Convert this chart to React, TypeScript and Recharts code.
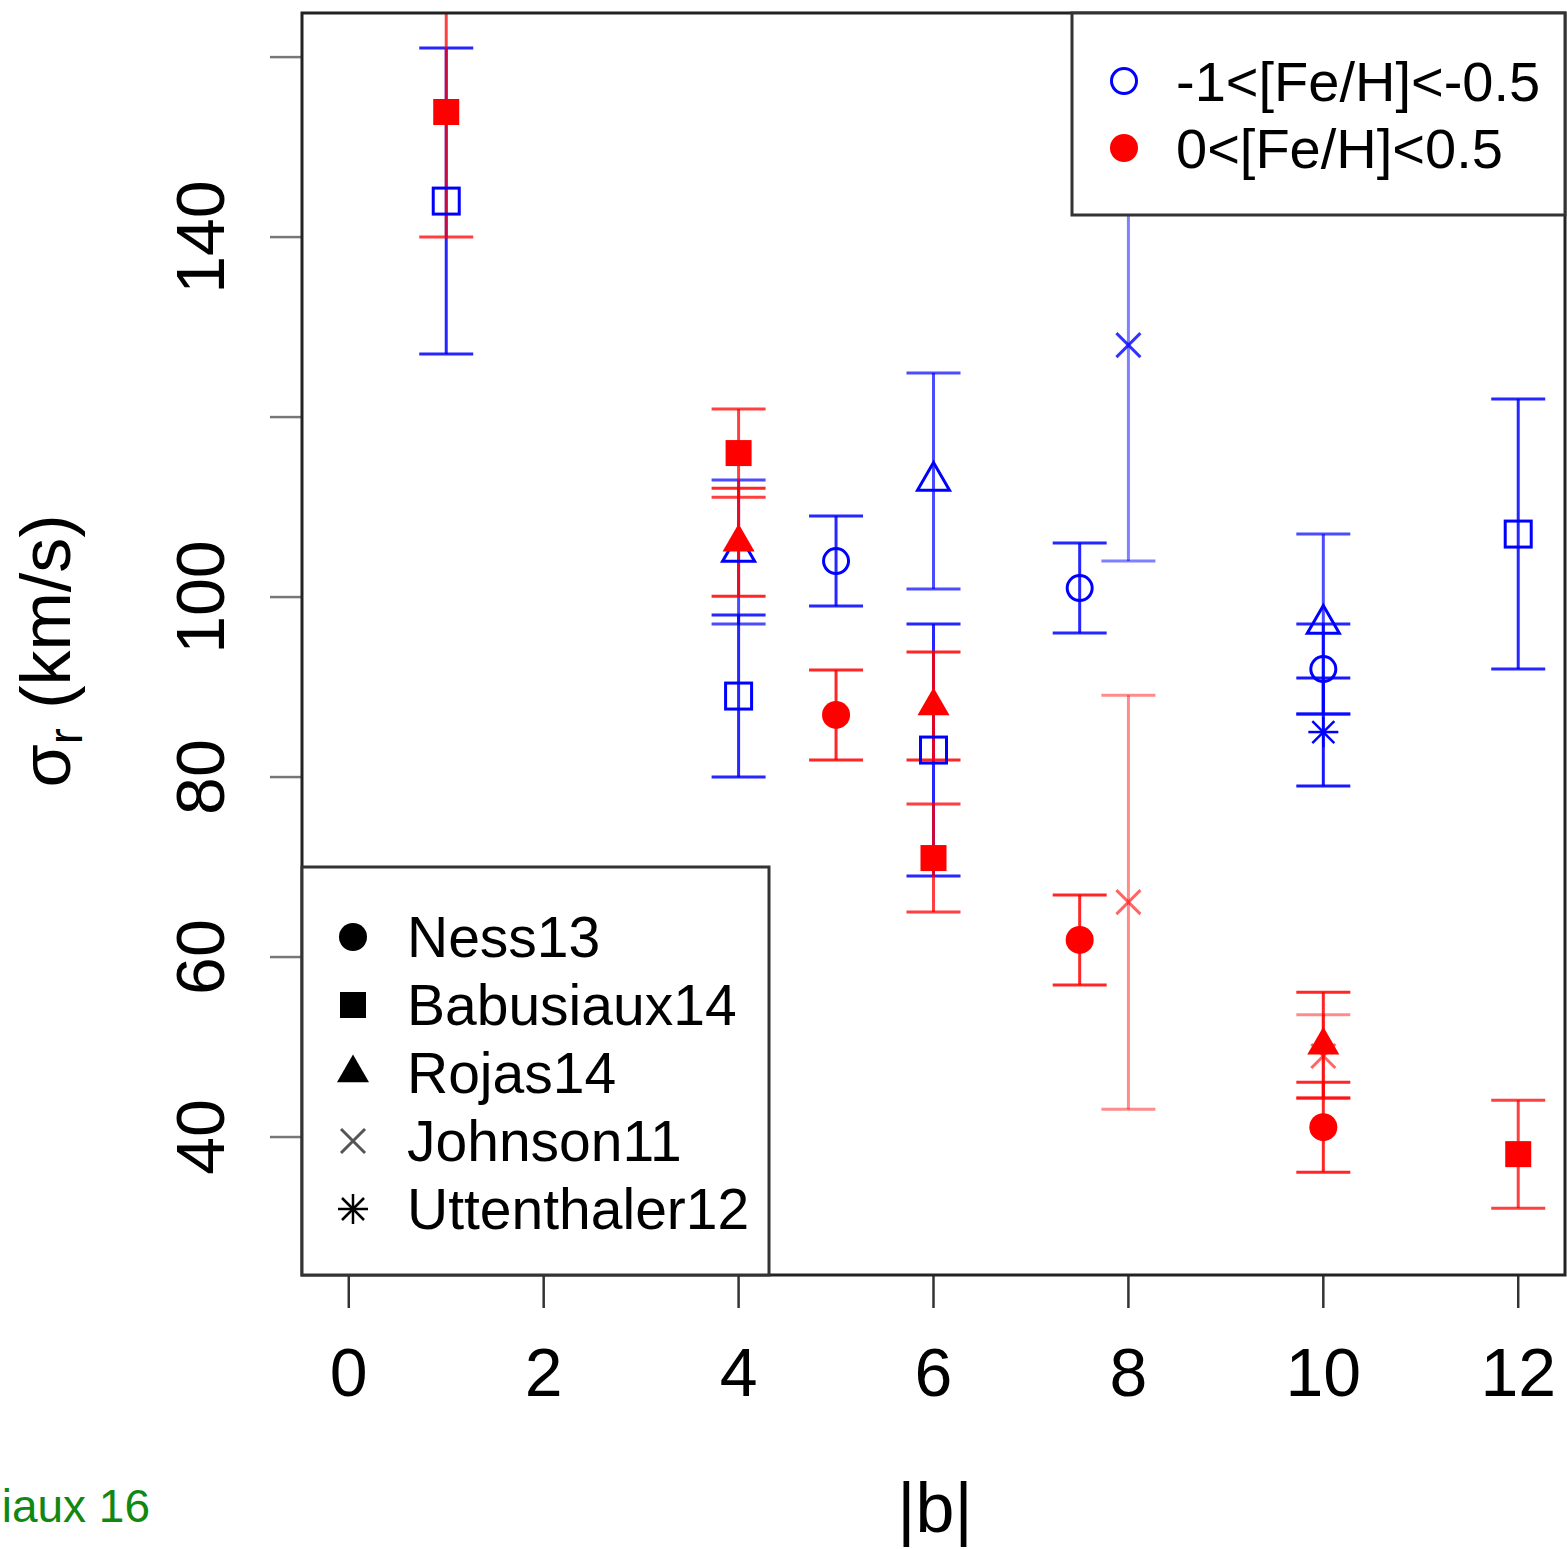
import { ErrorBar, Scatter, ScatterChart, XAxis, YAxis } from 'recharts'

interface Obs {
  b: number
  sigma: number
  err: number
}

// metal-poor stars, -1 < [Fe/H] < -0.5 (blue, open symbols)
const poorNess13: Obs[] = [
  { b: 5, sigma: 104, err: 5 },
  { b: 7.5, sigma: 101, err: 5 },
  { b: 10, sigma: 92, err: 5 },
]
const poorBabusiaux14: Obs[] = [
  { b: 1, sigma: 144, err: 17 },
  { b: 4, sigma: 89, err: 9 },
  { b: 6, sigma: 83, err: 14 },
  { b: 12, sigma: 107, err: 15 },
]
const poorRojas14: Obs[] = [
  { b: 4, sigma: 105, err: 8 },
  { b: 6, sigma: 112.9, err: 12 },
  { b: 10, sigma: 97, err: 10 },
]
const poorJohnson11: Obs[] = [{ b: 8, sigma: 128, err: 24 }]
const poorUttenthaler12: Obs[] = [{ b: 10, sigma: 85, err: 6 }]

// metal-rich stars, 0 < [Fe/H] < 0.5 (red, filled symbols)
const richNess13: Obs[] = [
  { b: 5, sigma: 86.9, err: 5 },
  { b: 7.5, sigma: 61.9, err: 5 },
  { b: 10, sigma: 41.1, err: 5 },
]
const richBabusiaux14: Obs[] = [
  { b: 1, sigma: 153.9, err: 13.9 },
  { b: 4, sigma: 116, err: 4.9 },
  { b: 6, sigma: 71, err: 6 },
  { b: 12, sigma: 38.1, err: 6 },
]
const richRojas14: Obs[] = [
  { b: 4, sigma: 106.1, err: 6 },
  { b: 6, sigma: 87.9, err: 6 },
  { b: 10, sigma: 50.2, err: 5.9 },
]
const richJohnson11: Obs[] = [
  { b: 8, sigma: 66.1, err: 23 },
  { b: 10, sigma: 49, err: 4.6 },
]

const xTicks = [0, 2, 4, 6, 8, 10, 12]
const yTicks = [40, 60, 80, 100, 120, 140, 160]
const yTickLabels = [40, 60, 80, 100, 140] // R skipped 120 and 160
const studies = ['Ness13', 'Babusiaux14', 'Rojas14', 'Johnson11', 'Uttenthaler12']
const groups = ['-1<[Fe/H]<-0.5', '0<[Fe/H]<0.5']

const BLUE = '#0000ff'
const RED = '#ff0000'
const FONT = '"Liberation Sans", Arial, Helvetica, sans-serif'

type Kind = 'circle' | 'square' | 'triangle' | 'cross' | 'star'

const studyKinds: Kind[] = ['circle', 'square', 'triangle', 'cross', 'star']

interface MarkerProps {
  kind: Kind
  cx: number
  cy: number
  color: string
  filled: boolean
  opacity?: number
}

function Marker({ kind, cx, cy, color, filled, opacity = 1 }: MarkerProps) {
  const sw = 3
  if (kind === 'circle') {
    return filled ? (
      <circle cx={cx} cy={cy} r={14} fill={color} opacity={opacity} />
    ) : (
      <circle cx={cx} cy={cy} r={12.5} fill="none" stroke={color} strokeWidth={sw} opacity={opacity} />
    )
  }
  if (kind === 'square') {
    const s = 13
    return (
      <rect
        x={cx - s}
        y={cy - s}
        width={2 * s}
        height={2 * s}
        fill={filled ? color : 'none'}
        stroke={filled ? 'none' : color}
        strokeWidth={sw}
        opacity={opacity}
      />
    )
  }
  if (kind === 'triangle') {
    const r = 18.5
    const pts = `${cx},${cy - r} ${cx + r * 0.866},${cy + r / 2} ${cx - r * 0.866},${cy + r / 2}`
    return (
      <polygon
        points={pts}
        fill={filled ? color : 'none'}
        stroke={filled ? 'none' : color}
        strokeWidth={sw}
        opacity={opacity}
      />
    )
  }
  if (kind === 'cross') {
    const d = 12
    return (
      <g stroke={color} strokeWidth={sw} opacity={opacity}>
        <line x1={cx - d} y1={cy - d} x2={cx + d} y2={cy + d} />
        <line x1={cx - d} y1={cy + d} x2={cx + d} y2={cy - d} />
      </g>
    )
  }
  const d = 15
  const e = 11
  return (
    <g stroke={color} strokeWidth={sw - 0.5} opacity={opacity}>
      <line x1={cx - d} y1={cy} x2={cx + d} y2={cy} />
      <line x1={cx} y1={cy - d} x2={cx} y2={cy + d} />
      <line x1={cx - e} y1={cy - e} x2={cx + e} y2={cy + e} />
      <line x1={cx - e} y1={cy + e} x2={cx + e} y2={cy - e} />
    </g>
  )
}

interface SeriesDef {
  name: string
  data: Obs[]
  kind: Kind
  color: string
  filled: boolean
  barOpacity: number
  markOpacity: number
}

const series: SeriesDef[] = [
  { name: 'poor-ness', data: poorNess13, kind: 'circle', color: BLUE, filled: false, barOpacity: 0.85, markOpacity: 1 },
  { name: 'poor-babusiaux', data: poorBabusiaux14, kind: 'square', color: BLUE, filled: false, barOpacity: 0.85, markOpacity: 1 },
  { name: 'poor-rojas', data: poorRojas14, kind: 'triangle', color: BLUE, filled: false, barOpacity: 0.7, markOpacity: 1 },
  { name: 'poor-johnson', data: poorJohnson11, kind: 'cross', color: BLUE, filled: false, barOpacity: 0.5, markOpacity: 0.8 },
  { name: 'poor-uttenthaler', data: poorUttenthaler12, kind: 'star', color: BLUE, filled: false, barOpacity: 0.9, markOpacity: 1 },
  { name: 'rich-ness', data: richNess13, kind: 'circle', color: RED, filled: true, barOpacity: 0.85, markOpacity: 1 },
  { name: 'rich-babusiaux', data: richBabusiaux14, kind: 'square', color: RED, filled: true, barOpacity: 0.75, markOpacity: 1 },
  { name: 'rich-rojas', data: richRojas14, kind: 'triangle', color: RED, filled: true, barOpacity: 0.85, markOpacity: 1 },
  { name: 'rich-johnson', data: richJohnson11, kind: 'cross', color: RED, filled: true, barOpacity: 0.45, markOpacity: 0.6 },
]

function XTick(props: any) {
  const { x, y, payload } = props
  return (
    <text x={x} y={y + 86} textAnchor="middle" fontSize={68} fontFamily={FONT} fill="#000">
      {payload.value}
    </text>
  )
}

function YTick(props: any) {
  const { x, y, payload } = props
  if (!yTickLabels.includes(payload.value)) return <g />
  const bx = x - 44
  return (
    <text
      x={bx}
      y={y}
      transform={`rotate(-90 ${bx} ${y})`}
      textAnchor="middle"
      fontSize={68}
      fontFamily={FONT}
      fill="#000"
    >
      {payload.value}
    </text>
  )
}

export default function App() {
  return (
    <div style={{ position: 'absolute', left: 0, top: 0, width: 1567, height: 1549, background: '#fff' }}>
      <ScatterChart width={1567} height={1549} margin={{ top: 13, right: 2, bottom: 154, left: 152 }}>
        <XAxis
          type="number"
          dataKey="b"
          domain={[-0.48, 12.48]}
          ticks={xTicks}
          interval={0}
          allowDataOverflow
          axisLine={false}
          tickSize={33}
          tickLine={{ stroke: '#333', strokeWidth: 2.5 }}
          tick={XTick}
          height={120}
        />
        <YAxis
          type="number"
          dataKey="sigma"
          domain={[24.67, 164.9]}
          ticks={yTicks}
          interval={0}
          allowDataOverflow
          axisLine={false}
          tickSize={32}
          tickLine={{ stroke: '#777', strokeWidth: 2.5 }}
          tick={YTick}
          width={150}
        />
        {series.map((s) => (
          <Scatter
            key={s.name}
            name={s.name}
            data={s.data}
            isAnimationActive={false}
            shape={(p: any) => (
              <Marker kind={s.kind} cx={p.cx} cy={p.cy} color={s.color} filled={s.filled} opacity={s.markOpacity} />
            )}
          >
            <ErrorBar
              dataKey="err"
              direction="y"
              width={27}
              stroke={s.color}
              strokeWidth={3}
              strokeOpacity={s.barOpacity}
              isAnimationActive={false}
            />
          </Scatter>
        ))}
      </ScatterChart>

      <svg
        width={1567}
        height={1549}
        style={{ position: 'absolute', left: 0, top: 0, pointerEvents: 'none' }}
        fontFamily={FONT}
      >
        {/* hide what runs past the top of the plot */}
        <rect x={300} y={0} width={1267} height={12} fill="#fff" />
        {/* plot frame */}
        <rect x={302} y={13} width={1263} height={1262} fill="none" stroke="#222" strokeWidth={3} />

        {/* metallicity legend */}
        <rect x={1072} y={13} width={493} height={202} fill="#fff" stroke="#333" strokeWidth={3} />
        <Marker kind="circle" cx={1124} cy={81} color={BLUE} filled={false} />
        <Marker kind="circle" cx={1124} cy={148} color={RED} filled />
        {groups.map((g, i) => (
          <text key={g} x={1176} y={101 + i * 67} fontSize={56} fill="#000">
            {g}
          </text>
        ))}

        {/* study legend */}
        <rect x={302} y={867} width={467} height={408} fill="#fff" stroke="#333" strokeWidth={3} />
        {studies.map((name, i) => (
          <g key={name}>
            <Marker
              kind={studyKinds[i]}
              cx={353}
              cy={937 + i * 68}
              color={i === 3 ? '#555' : '#000'}
              filled={i < 3}
            />
            <text x={407} y={957 + i * 68} fontSize={57} fill="#000">
              {name}
            </text>
          </g>
        ))}

        {/* axis titles */}
        <text x={935} y={1532} textAnchor="middle" fontSize={70} fill="#000">
          |b|
        </text>
        <text x={70} y={651} transform="rotate(-90 70 651)" textAnchor="middle" fontSize={70} fill="#000">
          σ<tspan fontSize={48} dy={12}>r</tspan>
          <tspan dy={-12}> (km/s)</tspan>
        </text>

        {/* source note as it appears, cropped at the left edge */}
        <text x={150} y={1522} textAnchor="end" fontSize={46} fill="#118811">
          iaux 16
        </text>
      </svg>
    </div>
  )
}
